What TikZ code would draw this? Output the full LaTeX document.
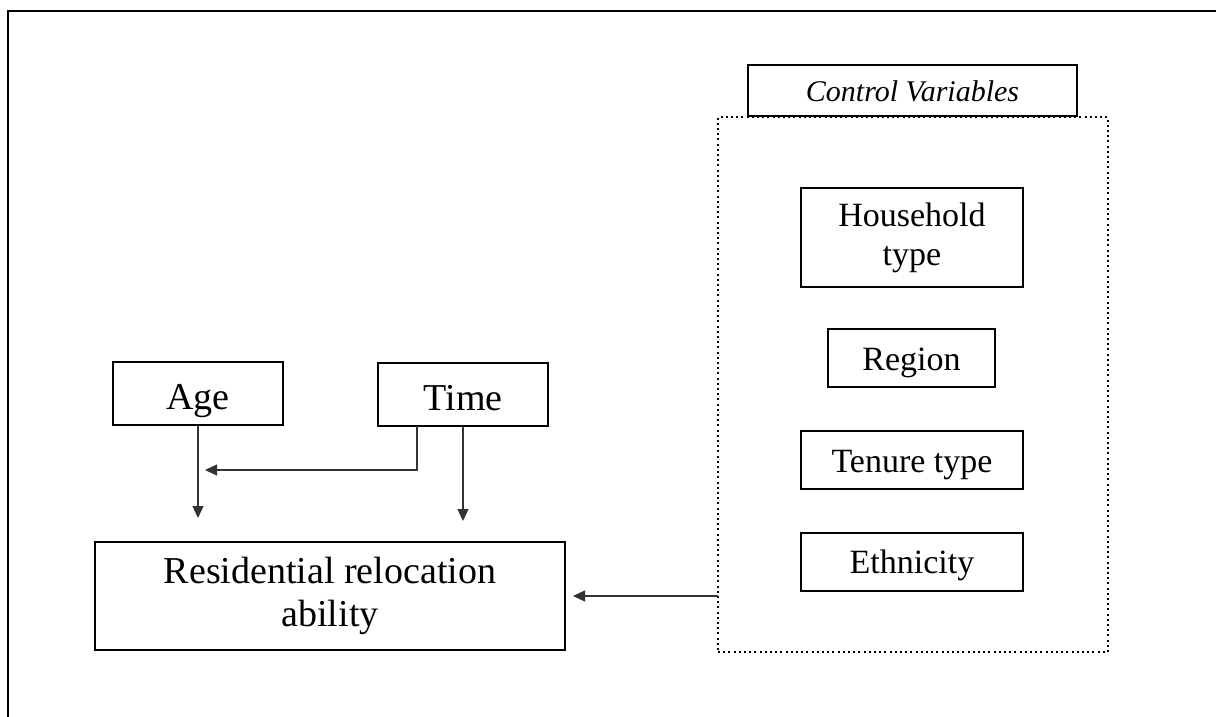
\documentclass[tikz,border=0pt]{standalone}
\usepackage{fontspec}
\setmainfont{Liberation Serif}
\usetikzlibrary{arrows.meta}

\begin{document}
\begin{tikzpicture}
  [
    x = 0.5pt, y = -0.5pt,
    every node/.style = {draw, line width=1pt, inner sep=0pt, align=center},
    base/.style = {text height=#1, text depth=0pt},
    bigfont/.style = {font=\fontsize{19}{21.5}\selectfont},
    varbox/.style = {bigfont, base=16pt, minimum width=85pt, minimum height=31.5pt},
    ctrlitem/.style = {base=12pt, minimum width=111pt, minimum height=29pt,
      font=\fontsize{17}{19.5}\selectfont},
    ctrlbox/.style = {line width=1.1pt, dash pattern=on 1pt off 1.6pt,
      minimum width=195pt, minimum height=267.5pt},
    titlebox/.style = {fill=white, base=11.5pt, minimum width=164.5pt,
      minimum height=25.5pt, font=\fontsize{15}{17}\selectfont\itshape},
    link/.style = {draw=black!80, line width=0.6pt,
      -{Triangle[length=6pt, width=5.5pt]}}
  ]
  \useasboundingbox (0,0) rectangle (1216,717);
  \draw[line width=1pt] (8,717) |- (1216,11);

  % control variables
  \node[ctrlbox] (Ctrl) at (913,384.5) {};
  \node[titlebox] (CtrlTitle) at (912.5,90.5) {Control Variables};
  \node[ctrlitem, text height=, text depth=, minimum height=49.5pt]
    (House) at (912,237.5) {Household\\type};
  \node[ctrlitem, minimum width=83.5pt] (Region) at (911.5,358) {Region};
  \node[ctrlitem] (Tenure) at (912,460) {Tenure type};
  \node[ctrlitem] (Ethnic) at (912,561.5) {Ethnicity};

  % main variables
  \node[varbox] (Age) at (198,393.5) {Age};
  \node[varbox] (Time) at (463,394) {Time};
  \node[bigfont, minimum width=235pt, minimum height=54pt] (Reloc) at (330,596)
    {Residential relocation\\ability};

  \coordinate (AgeEnd) at (198,518);
  \coordinate (TimeEnd) at (463,521);
  \coordinate (TimeOut) at (417,426);
  \coordinate (AgeJoin) at (205,470);
  \coordinate (CtrlOut) at (718,596);
  \coordinate (RelocIn) at (573,596);

  \draw[link] (Age.south) -- (AgeEnd);
  \draw[link] (Time.south) -- (TimeEnd);
  \draw[link] (TimeOut) |- (AgeJoin);
  \draw[link] (CtrlOut) -- (RelocIn);
\end{tikzpicture}
\end{document}
